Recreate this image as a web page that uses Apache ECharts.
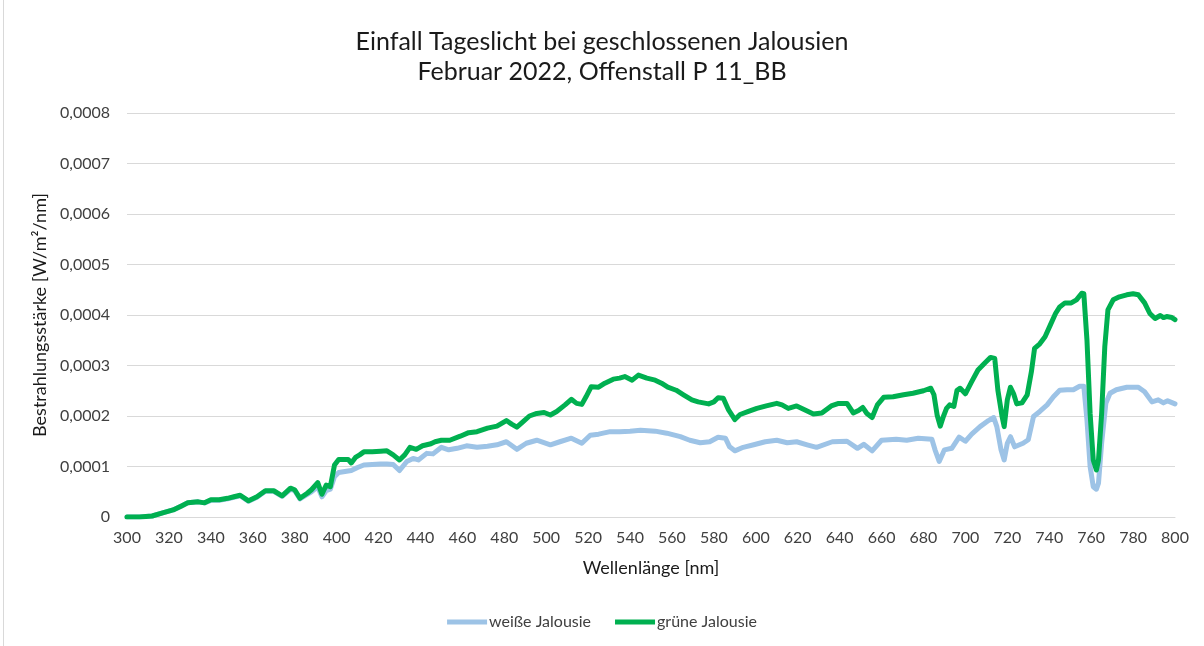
<!DOCTYPE html>
<html>
<head>
<meta charset="utf-8">
<script src="https://cdn.jsdelivr.net/npm/echarts@6/dist/echarts.min.js"></script>
<style>
html,body{margin:0;padding:0;background:#fff;}
#wrap{position:relative;width:1204px;height:646px;}
#frame{position:absolute;left:3px;top:0;width:0;height:646px;border-left:1px solid #d9d9d9;}
#chart{position:absolute;left:0;top:0;width:1204px;height:646px;}
</style>
</head>
<body>
<div id="wrap"><div id="chart"></div><div id="frame"></div></div>
<script>
// Title lines
const titleLines = ['Einfall Tageslicht bei geschlossenen Jalousien', 'Februar 2022, Offenstall P 11_BB'];
const xAxisName = 'Wellenlänge [nm]';
const yAxisName = 'Bestrahlungsstärke [W/m²/nm]';
const seriesNames = ['weiße Jalousie', 'grüne Jalousie'];

// Wavelengths [nm] and irradiance (in units of 10^-4 W/m²/nm) — weiße Jalousie
const wlWeiss = [300,306,312,317,322,326,329,334,337,340,344,348,351,354,358,362,366,370,374,378,380,382.5,386,388,391,393,395,397,399,401,404,407,410,413,417,421,424,427,430,433.5,436.5,439,443,446,450,453.5,457.5,462,467,472,476.5,481,486,490.5,495.5,502,506.5,512,517,521,525,530.5,535,540,545,552,557.5,564,568.5,573.5,578,582,585.5,587.5,590,594,599,604.5,610,615,619.5,624.5,629,636.5,643.5,648.5,651.5,655.5,660,667,672,677.5,684,685.5,687.5,690,693.5,697,700,703,707,711,713.5,715,717,718.5,720,721.5,723.5,727.5,730,732.5,735.5,739,742,745,748.5,751.5,754.5,756.5,758,759.5,761,762.5,763.5,765,767,769,772,777,782.5,785.5,789,792,794.5,796.5,800];
const valWeissE4 = [0,0,0.02,0.08,0.14,0.22,0.28,0.30,0.28,0.33,0.33,0.36,0.39,0.42,0.31,0.39,0.51,0.51,0.41,0.55,0.52,0.36,0.45,0.50,0.60,0.40,0.52,0.55,0.80,0.88,0.90,0.92,0.98,1.03,1.04,1.05,1.05,1.04,0.92,1.10,1.16,1.13,1.26,1.25,1.38,1.33,1.36,1.41,1.38,1.40,1.43,1.49,1.34,1.46,1.52,1.43,1.49,1.56,1.46,1.62,1.64,1.69,1.69,1.70,1.72,1.70,1.66,1.59,1.52,1.47,1.49,1.58,1.56,1.39,1.31,1.38,1.43,1.49,1.52,1.47,1.49,1.43,1.38,1.49,1.50,1.36,1.44,1.31,1.52,1.54,1.52,1.56,1.54,1.33,1.10,1.33,1.36,1.58,1.50,1.64,1.79,1.91,1.97,1.79,1.33,1.13,1.46,1.59,1.39,1.46,1.53,1.99,2.09,2.22,2.38,2.51,2.52,2.52,2.59,2.59,1.92,1.00,0.60,0.55,0.67,1.46,2.25,2.45,2.52,2.57,2.57,2.48,2.28,2.32,2.26,2.30,2.24];

// grüne Jalousie
const wlGruen = [300,306,312,317,322,326,329,334,337,340,344,348,351,354,358,362,366,370,374,378,380,382.5,386,388,391,393,395,397,399,401,405.5,407,409,411,413,417,421,424,427,430,432.5,435,438,441,445,447,450,454,459,463,467,472,476.5,481,483.5,486,489,492,495.5,499,502,505,509,512,514.5,517,519,521.5,525,528,532,535,537.5,541,544,548,552,555,558,562,565.5,569.5,572.5,577.5,580,582,584.5,587,590,592.5,596.5,600.5,605,610,612.5,615.5,619.5,623,627.5,631.5,636,639.5,643.5,646.5,649,651,653,655.5,658,661,665.5,670.5,675,680,683.5,685,686.5,688,689.5,691,692.5,694.5,696,697.5,700,703,706,709.5,712,714,715.5,717.5,718.5,720,721.5,723,724.5,727,729.5,731.5,733,735.5,738,740.5,743,745,747.5,750.5,753,755.5,756.5,758,759.5,761,762.5,763.5,765,766.5,768,770.5,773.5,777,780,782.5,785.5,788,790.5,793,794.5,796,798.5,800];
const valGruenE4 = [0,0,0.02,0.08,0.14,0.22,0.28,0.30,0.28,0.34,0.34,0.37,0.40,0.43,0.32,0.40,0.52,0.52,0.42,0.57,0.54,0.37,0.47,0.54,0.68,0.45,0.63,0.60,1.03,1.14,1.14,1.07,1.18,1.23,1.29,1.29,1.30,1.31,1.23,1.13,1.23,1.38,1.34,1.41,1.45,1.49,1.52,1.52,1.60,1.67,1.69,1.76,1.80,1.91,1.84,1.78,1.89,2.00,2.05,2.07,2.02,2.09,2.22,2.33,2.25,2.23,2.38,2.58,2.57,2.65,2.73,2.75,2.78,2.71,2.81,2.75,2.71,2.65,2.57,2.51,2.42,2.32,2.28,2.24,2.28,2.36,2.35,2.12,1.93,2.03,2.09,2.15,2.20,2.25,2.22,2.15,2.20,2.13,2.04,2.06,2.20,2.25,2.25,2.06,2.11,2.17,2.05,1.97,2.22,2.37,2.38,2.42,2.45,2.50,2.55,2.42,2.02,1.80,1.99,2.15,2.22,2.19,2.51,2.55,2.44,2.68,2.91,3.06,3.16,3.14,2.51,1.99,1.79,2.32,2.57,2.44,2.24,2.26,2.42,2.88,3.34,3.43,3.57,3.80,4.03,4.16,4.24,4.24,4.30,4.43,4.42,3.50,2.05,1.13,0.93,1.13,2.05,3.37,4.10,4.30,4.36,4.40,4.42,4.40,4.24,4.03,3.93,3.99,3.95,3.97,3.95,3.91];

// Axis ranges / ticks
const xMin = 300, xMax = 800, xStep = 20;
const yMin = 0, yMax = 0.0008, yStep = 0.0001;

const UNIT = 1e-4;
const dataWeiss = wlWeiss.map((w, i) => [w, valWeissE4[i] * UNIT]);
const dataGruen = wlGruen.map((w, i) => [w, valGruenE4[i] * UNIT]);

const FONT = 'Lato, "Liberation Sans", sans-serif';
const chart = echarts.init(document.getElementById('chart'), null, {renderer: 'canvas'});
chart.setOption({
  animation: false,
  backgroundColor: '#ffffff',
  title: {
    text: titleLines.join('\n'),
    left: 'center',
    top: 22,
    textStyle: {fontFamily: FONT, fontSize: 25, fontWeight: 'normal', color: '#1a1a1a', lineHeight: 30}
  },
  grid: {left: 127, right: 29, top: 113, bottom: 129, containLabel: false},
  xAxis: {
    type: 'value',
    min: xMin, max: xMax, interval: xStep,
    name: xAxisName,
    nameLocation: 'middle',
    nameGap: 42,
    nameTextStyle: {fontFamily: FONT, fontSize: 18, color: '#1a1a1a'},
    axisLine: {show: true, lineStyle: {color: '#d9d9d9', width: 1}},
    axisTick: {show: false},
    axisLabel: {fontFamily: FONT, fontSize: 16, color: '#404040', margin: 13},
    splitLine: {show: false}
  },
  yAxis: {
    type: 'value',
    min: yMin, max: yMax, interval: yStep,
    name: yAxisName,
    nameLocation: 'middle',
    nameRotate: 90,
    nameGap: 71,
    nameTextStyle: {fontFamily: FONT, fontSize: 18, color: '#1a1a1a'},
    axisLine: {show: false},
    axisTick: {show: false},
    axisLabel: {
      fontFamily: FONT, fontSize: 16, color: '#404040', margin: 17,
      formatter: v => v === 0 ? '0' : v.toFixed(4).replace('.', ',')
    },
    splitLine: {show: true, lineStyle: {color: '#d9d9d9', width: 1}}
  },
  legend: {
    bottom: 11,
    left: 'center',
    itemWidth: 40,
    itemHeight: 5,
    itemGap: 24,
    icon: 'rect',
    textStyle: {fontFamily: FONT, fontSize: 16, color: '#404040', padding: [0, 0, 0, -3]},
    data: seriesNames
  },
  series: [
    {
      name: seriesNames[0], type: 'line', data: dataWeiss,
      showSymbol: false, symbol: 'none', smooth: false,
      lineStyle: {color: '#9DC3E6', width: 5, cap: 'round', join: 'round'},
      itemStyle: {color: '#9DC3E6'}
    },
    {
      name: seriesNames[1], type: 'line', data: dataGruen,
      showSymbol: false, symbol: 'none', smooth: false,
      lineStyle: {color: '#00B050', width: 5, cap: 'round', join: 'round'},
      itemStyle: {color: '#00B050'}
    }
  ]
});
</script>
</body>
</html>
